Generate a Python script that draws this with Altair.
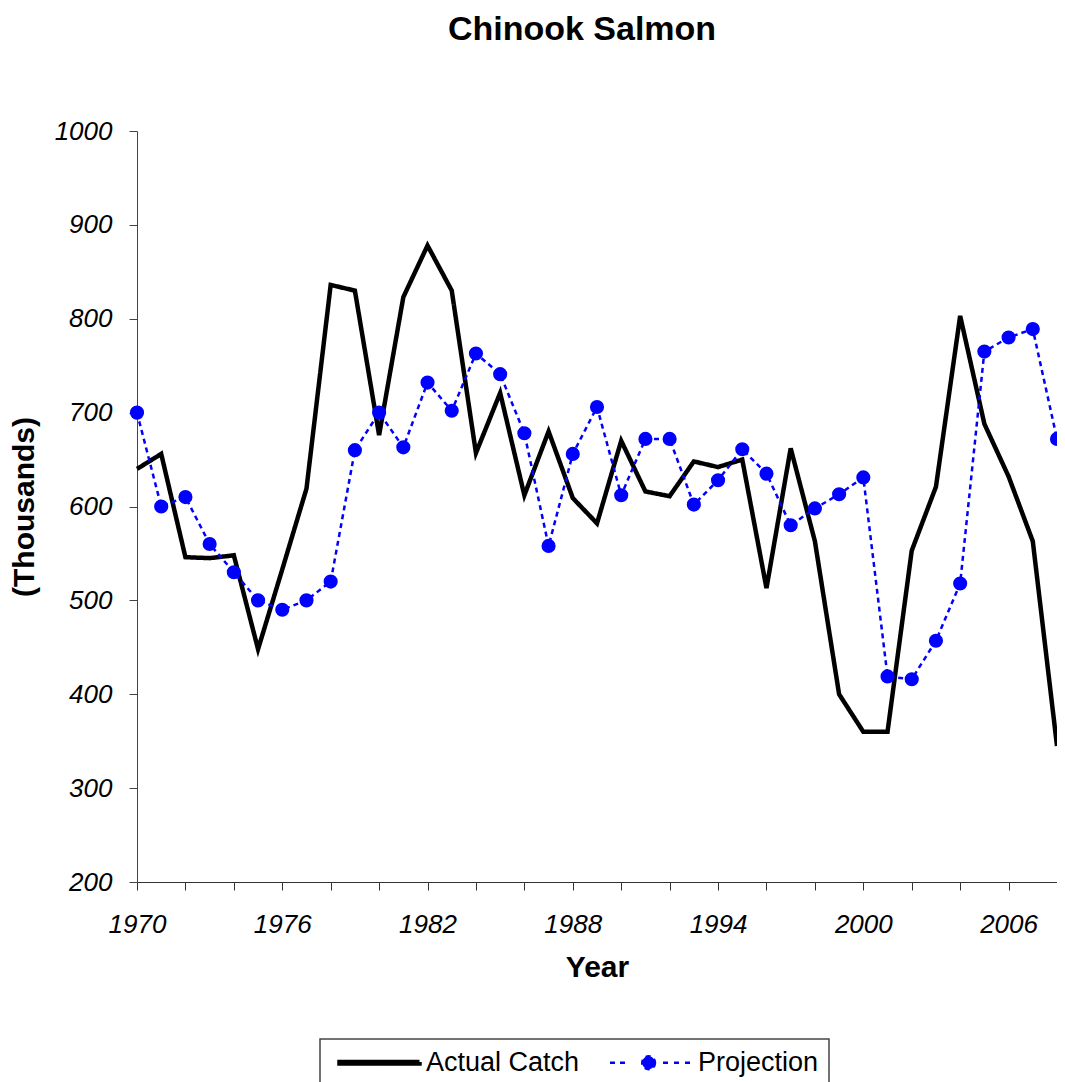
import altair as alt
import pandas as pd
import altair.utils.schemapi as _schemapi

# The legend "encode" block is a (hidden) Vega-Lite property that is not in
# the published JSON schema, so schema validation is switched off.
_schemapi.DEBUG_MODE = False

years = list(range(1970, 2009))
actual_catch = [640, 656, 546, 545, 548, 448, 533, 619, 836, 830,
                676, 823, 878, 830, 657, 721, 612, 680, 609, 582,
                670, 616, 611, 648, 642, 650, 513, 662, 563, 400,
                360, 360, 553, 621, 803, 688, 632, 563, 345]
projection = [700, 600, 610, 560, 530, 500, 490, 500, 520, 660,
              700, 663, 732, 702, 763, 741, 678, 558, 656, 706,
              612, 672, 672, 602, 628, 661, 635, 580, 598, 613,
              631, 419, 416, 457, 518, 765, 780, 789, 672]
series_names = ["Actual Catch", "Projection"]
x_tick_labels = [1970, 1973, 1976, 1979, 1982, 1985, 1988, 1991, 1994,
                 1997, 2000, 2003, 2006]
y_ticks = [200, 300, 400, 500, 600, 700, 800, 900, 1000]

rows = []
for y, a, p in zip(years, actual_catch, projection):
    rows.append({"year": y, "value": a, "series": series_names[0]})
    rows.append({"year": y, "value": p, "series": series_names[1]})
df = pd.DataFrame(rows)

FONT = "Liberation Sans"

# legend symbols (custom SVG paths in symbol units)
act_path = "M-0.5,-0.1L9.5,-0.1L9.5,0.1L-0.5,0.1Z"
proj_path = ("M-0.69,0L0.06,0M0.56,0L1.31,0"
             "M4.94,0A0.8,0.8,0,1,1,3.34,0A0.8,0.8,0,1,1,4.94,0Z"
             "M5.94,0L6.69,0M7.31,0L8.06,0M8.69,0L9.44,0")

labels_js = "[" + ",".join(str(v) for v in x_tick_labels) + "]"

x_enc = alt.X(
    "year:Q",
    scale=alt.Scale(domain=[years[0], years[-1]], nice=False, zero=False),
    axis=alt.Axis(
        values=years,
        labelExpr=f"indexof({labels_js}, datum.value) >= 0 ? datum.value : ''",
        title="Year", titleFont=FONT, titleFontSize=30, titleFontWeight="bold",
        titleColor="black", titleY=85, titleBaseline="middle",
        labelFont=FONT, labelFontStyle="italic", labelFontSize=26,
        labelColor="black", labelPadding=21, labelFlush=False, labelOverlap=False,
        tickSize=8, tickColor="#333", domainColor="#333", grid=False,
    ),
)
y_enc = alt.Y(
    "value:Q",
    scale=alt.Scale(domain=[200, 1000], nice=False, zero=False),
    axis=alt.Axis(
        values=y_ticks, format="d",
        title="(Thousands)", titleFont=FONT, titleFontSize=30, titleFontWeight="bold",
        titleColor="black", titleX=-113, titleY=375.5, titleAngle=270,
        titleAlign="center", titleBaseline="middle",
        labelFont=FONT, labelFontStyle="italic", labelFontSize=26,
        labelColor="black", labelPadding=17, labelFlush=False,
        tickSize=8, tickColor="#444", domainColor="#444", grid=False,
    ),
)

color_signal = "datum.value === 'Actual Catch' ? 'black' : 'blue'"
legend = alt.Legend(
    title=None, orient="none", legendX=183, legendY=908, direction="horizontal",
    labelFont=FONT, labelFontSize=27, labelColor="black", labelOffset=69,
    labelLimit=400, columnPadding=22, padding=10, strokeColor="#444",
    symbolSize=256, symbolStrokeWidth=3,
    encode={
        "symbols": {"update": {
            "shape": {"signal": f"datum.value === 'Actual Catch' ? '{act_path}' : '{proj_path}'"},
            "fill": {"signal": color_signal},
            "stroke": {"signal": color_signal},
            "strokeWidth": {"value": 3},
            "size": {"value": 256},
            "opacity": {"value": 1},
            "strokeDash": {"value": [1, 0]},
        }},
        "legend": {"update": {"strokeWidth": {"value": 1.5}}},
    },
)

lines = alt.Chart(df).mark_line().encode(
    x=x_enc,
    y=y_enc,
    color=alt.Color("series:N", scale=alt.Scale(domain=series_names, range=["black", "blue"]),
                    legend=legend),
    strokeDash=alt.StrokeDash("series:N", scale=alt.Scale(domain=series_names, range=[[1, 0], [5, 4]]),
                              legend=None),
    strokeWidth=alt.StrokeWidth("series:O", scale=alt.Scale(domain=series_names, range=[4.5, 2.5]),
                                legend=None),
)

points = alt.Chart(df).transform_filter(
    alt.datum.series == series_names[1]
).mark_point(filled=True, size=200, color="blue", opacity=1).encode(
    x=alt.X("year:Q"),
    y=alt.Y("value:Q"),
)

chart = alt.layer(lines, points).properties(
    width=920,
    height=751,
    title=alt.TitleParams("Chinook Salmon", font=FONT, fontSize=34, fontWeight="bold",
                          color="black", anchor="middle", offset=71, dx=-15),
    autosize=alt.AutoSizeParams(type="none"),
    padding={"left": 129, "top": 123, "right": 0, "bottom": 200},
).configure_view(stroke=None)

_orig_to_dict = alt.LayerChart.to_dict


def _to_dict_no_validate(self, *args, **kwargs):
    kwargs["validate"] = False
    return _orig_to_dict(self, *args, **kwargs)


alt.LayerChart.to_dict = _to_dict_no_validate

chart.save("out.html", embed_options={"renderer": "svg", "actions": False})
